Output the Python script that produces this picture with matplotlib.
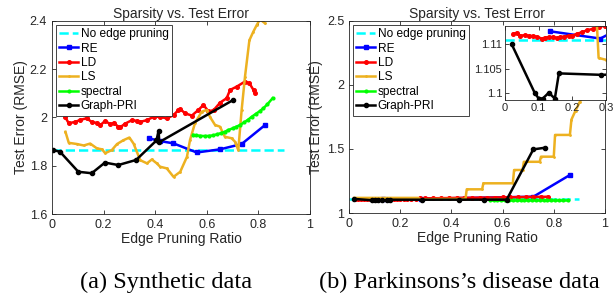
import matplotlib
matplotlib.use("Agg")
import matplotlib.pyplot as plt

plt.rcParams['font.family'] = ['Liberation Sans', 'DejaVu Sans']

# ---- (a) Synthetic data ----
a_base_x = [0.0, 0.9]
a_base_y = [1.866, 1.866]

a_re_x = [0.376, 0.42, 0.47, 0.561, 0.651, 0.735, 0.826]
a_re_y = [1.914, 1.902, 1.893, 1.855, 1.868, 1.89, 1.969]

a_ld_x = [0.052, 0.065, 0.09, 0.11, 0.135, 0.155, 0.174, 0.187, 0.206, 0.226, 0.239,
          0.257, 0.265, 0.284, 0.31, 0.329, 0.342, 0.368, 0.394, 0.419, 0.445, 0.471,
          0.49, 0.497, 0.516, 0.542, 0.567, 0.587, 0.606, 0.626, 0.652, 0.677, 0.69,
          0.716, 0.748, 0.765, 0.781, 0.787]
a_ld_y = [2.0, 1.976, 1.982, 1.99, 1.997, 1.98, 1.978, 1.968, 1.986, 1.972, 1.978,
          1.962, 1.96, 1.975, 1.989, 1.986, 1.982, 1.989, 2.003, 2.003, 1.996, 2.01,
          2.031, 2.035, 2.017, 2.008, 2.031, 2.052, 2.026, 2.03, 2.062, 2.08, 2.114,
          2.128, 2.149, 2.142, 2.114, 2.102]

a_ls_x = [0.052, 0.065, 0.097, 0.123, 0.148, 0.174, 0.194, 0.206, 0.232, 0.252, 0.277,
          0.3, 0.316, 0.342, 0.368, 0.387, 0.406, 0.419, 0.445, 0.471, 0.497, 0.523,
          0.535, 0.554, 0.58, 0.6, 0.612, 0.632, 0.651, 0.67, 0.696, 0.709, 0.722,
          0.735, 0.748, 0.765, 0.78, 0.793, 0.806, 0.826]
a_ls_y = [1.941, 1.895, 1.89, 1.884, 1.892, 1.872, 1.868, 1.852, 1.865, 1.89, 1.906,
          1.917, 1.892, 1.823, 1.81, 1.826, 1.81, 1.796, 1.789, 1.754, 1.775, 1.837,
          1.907, 1.976, 2.024, 2.031, 2.003, 1.969, 1.962, 1.92, 1.914, 1.9, 1.865,
          2.031, 2.169, 2.32, 2.355, 2.382, 2.407, 2.39]

a_sp_x = [0.548, 0.56, 0.575, 0.593, 0.61, 0.625, 0.638, 0.655, 0.67, 0.683, 0.7,
          0.715, 0.729, 0.745, 0.76, 0.774, 0.79, 0.805, 0.819, 0.835, 0.855]
a_sp_y = [1.928, 1.926, 1.924, 1.923, 1.924, 1.926, 1.93, 1.935, 1.941, 1.948, 1.955,
          1.962, 1.969, 1.98, 1.991, 2.003, 2.015, 2.026, 2.038, 2.055, 2.08]

a_pri_x = [0.005, 0.031, 0.102, 0.154, 0.205, 0.257, 0.326, 0.405, 0.413, 0.416, 0.703]
a_pri_y = [1.865, 1.858, 1.775, 1.769, 1.813, 1.803, 1.824, 1.905, 1.945, 1.898, 2.073]

# ---- (b) Parkinsons's disease data ----
b_base_x = [0.0, 0.9]
b_base_y = [1.111, 1.111]

b_re_x = [0.134, 0.283, 0.72, 0.863]
b_re_y = [1.1127, 1.1112, 1.127, 1.297]

b_ld_x = [0.025, 0.035, 0.045, 0.058, 0.07, 0.082, 0.094, 0.109, 0.119, 0.131, 0.144,
          0.154, 0.164, 0.176, 0.189, 0.2, 0.214, 0.228, 0.243, 0.26, 0.278, 0.298,
          0.33, 0.36, 0.39, 0.42, 0.45, 0.48, 0.51, 0.54, 0.57, 0.6, 0.63, 0.66,
          0.69, 0.72, 0.75, 0.777]
b_ld_y = [1.1122, 1.1124, 1.1118, 1.1119, 1.1118, 1.1117, 1.1116, 1.1112, 1.1114,
          1.1115, 1.1115, 1.1113, 1.1115, 1.1116, 1.1118, 1.1118, 1.1122, 1.1125,
          1.1129, 1.1132, 1.1136, 1.1139, 1.115, 1.116, 1.117, 1.118, 1.118, 1.119,
          1.12, 1.12, 1.121, 1.122, 1.123, 1.124, 1.125, 1.126, 1.126, 1.127]

b_ls_x = [0.02, 0.1, 0.2, 0.27, 0.278, 0.3, 0.35, 0.455, 0.46, 0.52, 0.525, 0.64,
          0.645, 0.678, 0.683, 0.745, 0.75, 0.8, 0.805, 0.863, 0.869, 0.885, 0.902,
          0.95, 1.0]
b_ls_y = [1.118, 1.118, 1.118, 1.118, 1.1072, 1.1068, 1.11, 1.11, 1.185, 1.185, 1.232,
          1.232, 1.336, 1.336, 1.40, 1.40, 1.44, 1.44, 1.61, 1.61, 1.73, 1.80, 1.87,
          2.05, 2.25]

b_sp_x = [0.55, 0.565, 0.58, 0.595, 0.61, 0.625, 0.64, 0.655, 0.67, 0.685, 0.7, 0.715,
          0.73, 0.745, 0.76, 0.775, 0.79, 0.805, 0.82, 0.835, 0.855]
b_sp_y = [1.101, 1.101, 1.101, 1.101, 1.101, 1.101, 1.101, 1.101, 1.101, 1.101, 1.101,
          1.101, 1.101, 1.101, 1.101, 1.101, 1.101, 1.101, 1.101, 1.101, 1.101]

b_pri_x = [0.02, 0.088, 0.1, 0.112, 0.13, 0.148, 0.16, 0.286, 0.43, 0.527, 0.616,
           0.72, 0.766]
b_pri_y = [1.11, 1.1, 1.0988, 1.0988, 1.1, 1.0988, 1.104, 1.1037, 1.104, 1.104, 1.104,
           1.497, 1.51]

labels = ['No edge pruning', 'RE', 'LD', 'LS', 'spectral', 'Graph-PRI']
c_base = '#00FFFF'
c_re = '#0000FF'
c_ld = '#FF0000'
c_ls = '#EDB120'
c_sp = '#00FF00'
c_pri = '#000000'
axis_col = '#262626'


def draw_series(ax, base, re, ld, ls, sp, pri, lw=1.8):
    ax.plot(base[0], base[1], '--', color=c_base, lw=lw, label=labels[0])
    ax.plot(re[0], re[1], '-s', color=c_re, lw=lw, ms=3, label=labels[1])
    ax.plot(ld[0], ld[1], '-o', color=c_ld, lw=lw, ms=2.6, label=labels[2])
    ax.plot(ls[0], ls[1], '-', color=c_ls, lw=lw, marker='.', ms=2, label=labels[3])
    ax.plot(sp[0], sp[1], '-', color=c_sp, lw=lw, marker='.', ms=4, label=labels[4])
    ax.plot(pri[0], pri[1], '-o', color=c_pri, lw=lw, ms=3, label=labels[5])


def style_axes(ax, fs=9):
    ax.tick_params(direction='in', top=True, right=True, labelsize=fs,
                   colors=axis_col, length=3, width=0.6)
    for s in ax.spines.values():
        s.set_color(axis_col)
        s.set_linewidth(0.6)


def add_legend(ax):
    leg = ax.legend(loc='upper left', fontsize=8.6, handlelength=1.6, handletextpad=0.2,
                    labelspacing=0.2, borderpad=0.3, borderaxespad=0.3,
                    fancybox=False, framealpha=1, edgecolor=axis_col)
    leg.get_frame().set_linewidth(0.6)


fig = plt.figure(figsize=(6.14, 2.94), dpi=100)

# left panel
ax1 = fig.add_axes([0.0847, 0.2721, 0.4202, 0.6565])
draw_series(ax1, (a_base_x, a_base_y), (a_re_x, a_re_y), (a_ld_x, a_ld_y),
            (a_ls_x, a_ls_y), (a_sp_x, a_sp_y), (a_pri_x, a_pri_y))
ax1.set_xlim(0, 1)
ax1.set_ylim(1.6, 2.4)
ax1.set_xticks([0, 0.2, 0.4, 0.6, 0.8, 1])
ax1.set_xticklabels(['0', '0.2', '0.4', '0.6', '0.8', '1'])
ax1.set_yticks([1.6, 1.8, 2.0, 2.2, 2.4])
ax1.set_yticklabels(['1.6', '1.8', '2', '2.2', '2.4'])
style_axes(ax1)
ax1.set_title('Sparsity vs. Test Error', fontsize=10, color=axis_col, pad=2)
ax1.set_xlabel('Edge Pruning Ratio', fontsize=10, color=axis_col, labelpad=1)
ax1.set_ylabel('Test Error (RMSE)', fontsize=10, color=axis_col)
ax1.yaxis.set_label_coords(-0.093, 0.5)
add_legend(ax1)

# right panel
ax2 = fig.add_axes([0.5684, 0.2755, 0.4169, 0.6531])
draw_series(ax2, (b_base_x, b_base_y), (b_re_x, b_re_y), (b_ld_x, b_ld_y),
            (b_ls_x, b_ls_y), (b_sp_x, b_sp_y), (b_pri_x, b_pri_y))
ax2.set_xlim(0, 1)
ax2.set_ylim(1.0, 2.5)
ax2.set_xticks([0, 0.2, 0.4, 0.6, 0.8, 1])
ax2.set_xticklabels(['0', '0.2', '0.4', '0.6', '0.8', '1'])
ax2.set_yticks([1.0, 1.5, 2.0, 2.5])
ax2.set_yticklabels(['1', '1.5', '2', '2.5'])
style_axes(ax2)
ax2.set_title('Sparsity vs. Test Error', fontsize=10, color=axis_col, pad=2)
ax2.set_xlabel('Edge Pruning Ratio', fontsize=10, color=axis_col, labelpad=1)
ax2.set_ylabel('Test Error (RMSE)', fontsize=10, color=axis_col)
ax2.yaxis.set_label_coords(-0.10, 0.5)
add_legend(ax2)

# inset
ax3 = fig.add_axes([0.8225, 0.6599, 0.1645, 0.2517])
draw_series(ax3, (b_base_x, b_base_y), (b_re_x, b_re_y), (b_ld_x, b_ld_y),
            (b_ls_x, b_ls_y), (b_sp_x, b_sp_y), (b_pri_x, b_pri_y))
ax3.set_xlim(0, 0.3)
ax3.set_ylim(1.0985, 1.1138)
ax3.set_xticks([0, 0.1, 0.2, 0.3])
ax3.set_xticklabels(['0', '0.1', '0.2', '0.3'])
ax3.set_yticks([1.1, 1.105, 1.11])
ax3.set_yticklabels(['1.1', '1.105', '1.11'])
style_axes(ax3, fs=8)
ax3.tick_params(pad=2)

fig.text(0.271, 1 - 282 / 294, '(a) Synthetic data', ha='center', va='center',
         fontsize=17.5, family='Liberation Serif')
fig.text(0.748, 1 - 282 / 294, "(b) Parkinsons\u2019s disease data", ha='center',
         va='center', fontsize=17.5, family='Liberation Serif')

fig.savefig('out.png', dpi=100)
